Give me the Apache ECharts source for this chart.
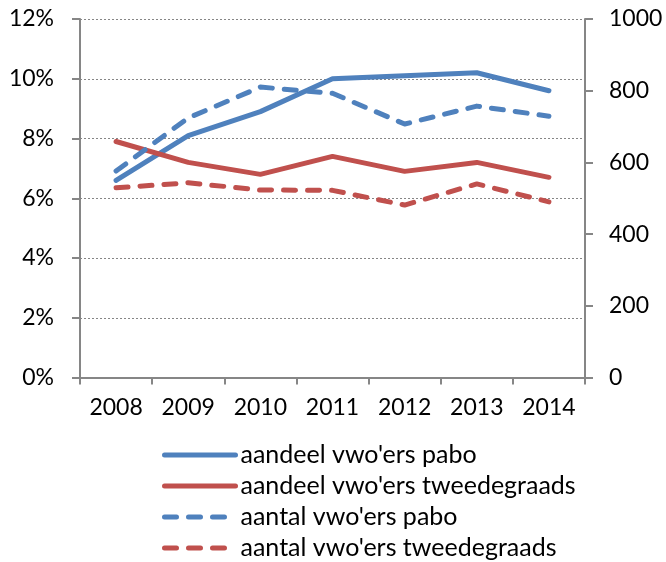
<!DOCTYPE html>
<html>
<head>
<meta charset="utf-8">
<script src="https://cdn.jsdelivr.net/npm/echarts@6/dist/echarts.min.js"></script>
<style>
html,body{margin:0;padding:0;background:#fff;}
#c{width:666px;height:562px;}
</style>
</head>
<body>
<div id="c"></div>
<script>
var years = ['2008','2009','2010','2011','2012','2013','2014'];
var aandeelPabo = [0.066, 0.081, 0.089, 0.100, 0.101, 0.102, 0.096];
var aandeelTweedegraads = [0.079, 0.072, 0.068, 0.074, 0.069, 0.072, 0.067];
var aantalPabo = [576, 724, 810, 793, 707, 757, 729];
var aantalTweedegraads = [529, 543, 523, 522, 481, 540, 490];
var seriesNames = ["aandeel vwo'ers pabo", "aandeel vwo'ers tweedegraads", "aantal vwo'ers pabo", "aantal vwo'ers tweedegraads"];

var BLUE = '#4F81BD', RED = '#C0504D', AX = '#868686';
var FONT = 'Lato';
var DASH = [12, 12];

var chart = echarts.init(document.getElementById('c'), null, {renderer: 'canvas'});
function ser(name, data, color, yIdx, dashed) {
  return {
    name: name, type: 'line', data: data, yAxisIndex: yIdx,
    symbol: 'none', smooth: false, animation: false,
    lineStyle: {color: color, width: 5, type: dashed ? DASH : 'solid', cap: 'round', join: 'round'},
    itemStyle: {color: color}
  };
}
function legItem(name, color, dashed) {
  return {name: name, itemStyle: {opacity: 0},
    lineStyle: {color: color, width: 5, type: dashed ? [12, 12] : 'solid', cap: 'round'}};
}
chart.setOption({
  animation: false,
  textStyle: {fontFamily: FONT},
  grid: {left: 80, right: 81, top: 19, bottom: 184.5, containLabel: false},
  legend: {
    orient: 'vertical', left: 162, top: 442, padding: 0, height: 125,
    itemWidth: 71, itemHeight: 14, itemGap: 5,
    data: [
      legItem(seriesNames[0], BLUE, false),
      legItem(seriesNames[1], RED, false),
      legItem(seriesNames[2], BLUE, true),
      legItem(seriesNames[3], RED, true)
    ],
    itemStyle: {opacity: 0},
    lineStyle: {width: 5, cap: 'round'},
    textStyle: {fontFamily: FONT, fontSize: 25, color: '#000', lineHeight: 26}
  },
  xAxis: {
    type: 'category', data: years, boundaryGap: true,
    axisLine: {lineStyle: {color: AX, width: 2}},
    axisTick: {show: true, length: 7, lineStyle: {color: AX, width: 2}, alignWithLabel: false},
    axisLabel: {fontFamily: FONT, fontSize: 23, color: '#000', margin: 19, interval: 0},
    splitLine: {show: false}
  },
  yAxis: [
    {
      type: 'value', min: 0, max: 0.12, interval: 0.02, position: 'left',
      axisLine: {show: true, lineStyle: {color: AX, width: 2}},
      axisTick: {show: true, length: 8, lineStyle: {color: AX, width: 2}},
      axisLabel: {fontFamily: FONT, fontSize: 23, color: '#000', margin: 26,
        formatter: function(v){ return Math.round(v*100) + '%'; }},
      splitLine: {show: true, lineStyle: {color: AX, width: 1, type: [2, 2]}}
    },
    {
      type: 'value', min: 0, max: 1000, interval: 200, position: 'right',
      axisLine: {show: true, lineStyle: {color: AX, width: 2}},
      axisTick: {show: true, length: 8, lineStyle: {color: AX, width: 2}},
      axisLabel: {fontFamily: FONT, fontSize: 23, color: '#000', margin: 24,
        formatter: function(v){ return String(v); }},
      splitLine: {show: false}
    }
  ],
  series: [
    ser(seriesNames[0], aandeelPabo, BLUE, 0, false),
    ser(seriesNames[1], aandeelTweedegraads, RED, 0, false),
    ser(seriesNames[2], aantalPabo, BLUE, 1, true),
    ser(seriesNames[3], aantalTweedegraads, RED, 1, true)
  ]
});
</script>
</body>
</html>
